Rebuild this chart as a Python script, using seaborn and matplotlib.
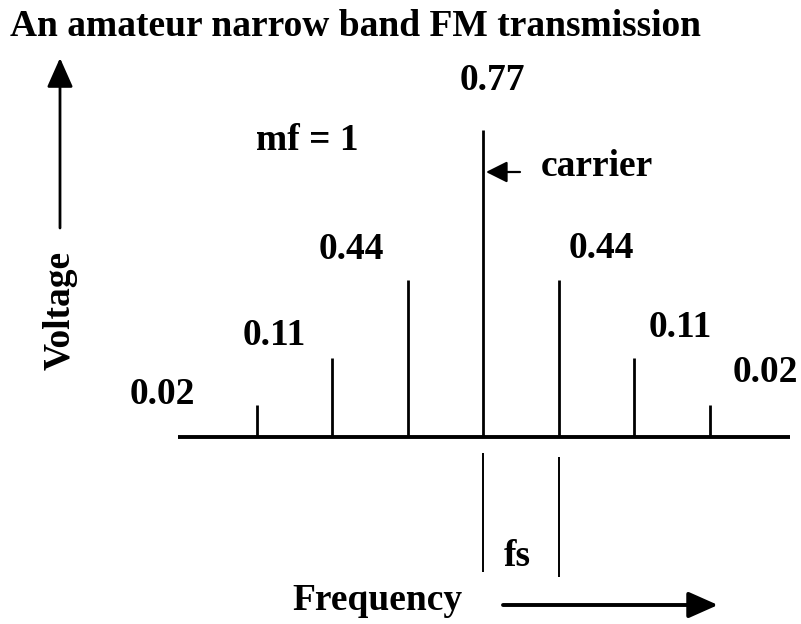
import matplotlib
matplotlib.use("Agg")
import matplotlib.pyplot as plt
import seaborn as sns

# side-band amplitudes (Bessel values for mf = 1), n = -3 .. 3
orders = [-3, -2, -1, 0, 1, 2, 3]
amplitudes = ["0.02", "0.11", "0.44", "0.77", "0.44", "0.11", "0.02"]
# drawn line lengths relative to the carrier
heights = [0.104, 0.257, 0.511, 1.0, 0.511, 0.257, 0.104]

W, H = 801, 624
sns.set_style("white")
plt.rcParams["font.family"] = ["Liberation Serif", "DejaVu Serif"]
plt.rcParams["text.color"] = "black"
FS = 27

fig = plt.figure(figsize=(W / 100, H / 100), dpi=100)
ax = fig.add_axes([0, 0, 1, 1])
ax.set_axis_off()

# map: order 0 at px 483, 75.5 px per order; baseline px 437, carrier 307 px tall
dx, x0 = 75.5, 483
dy, y0 = 307, 437
ax.set_xlim(-x0 / dx, (W - x0) / dx)
ax.set_ylim(-(H - y0) / dy, y0 / dy)


def px(x, y):
    return x / W, 1 - y / H


# baseline and spectral lines
ax.plot([(178 - x0) / dx, (790 - x0) / dx], [0, 0], color="black", lw=2.8,
        solid_capstyle="butt")
ax.vlines(orders, 0, heights, color="black", lw=2.0)

# value labels, offsets in pixels (right, up) from each line top
label_offsets = [(-94, 11), (-58, 23), (-56, 31), (9, 50), (43, 32), (46, 31), (56, 33)]
for o, h, lab, (ox, oy) in zip(orders, heights, amplitudes, label_offsets):
    ax.annotate(lab, (o, h), xytext=(ox * 0.72, oy * 0.72), textcoords="offset points",
                ha="center", va="center", fontsize=FS, fontweight="bold")

# fs spacing markers below the axis
ax.vlines([0], (437 - 453) / dy, (437 - 572) / dy, color="black", lw=1.4)
ax.vlines([1], (437 - 457) / dy, (437 - 577) / dy, color="black", lw=1.4)

fig.text(*px(517, 556), "fs", ha="center", va="center", fontsize=FS, fontweight="bold")
fig.text(*px(307, 141), "mf = 1", ha="center", va="center", fontsize=FS, fontweight="bold")
fig.text(*px(597, 167), "carrier", ha="center", va="center", fontsize=FS, fontweight="bold")
fig.text(*px(10, 27), "An amateur narrow band FM transmission", ha="left", va="center",
         fontsize=FS, fontweight="bold")
fig.text(*px(60, 310), "Voltage", ha="center", va="center", rotation=90,
         fontsize=FS, fontweight="bold")
fig.text(*px(377, 601), "Frequency", ha="center", va="center", fontsize=FS,
         fontweight="bold")

# arrows
head = "-|>,head_length=0.9,head_width=0.4"
ax.annotate("", xy=px(60, 58), xytext=px(60, 228), xycoords="figure fraction",
            arrowprops=dict(arrowstyle=head, lw=2, color="black",
                            mutation_scale=20, shrinkA=0, shrinkB=0))
ax.annotate("", xy=px(718, 605), xytext=px(503, 605), xycoords="figure fraction",
            arrowprops=dict(arrowstyle=head, lw=2.8, color="black",
                            mutation_scale=20, shrinkA=0, shrinkB=0))
ax.annotate("", xy=px(486, 172), xytext=px(520, 172), xycoords="figure fraction",
            arrowprops=dict(arrowstyle="-|>,head_length=1.0,head_width=0.5", lw=1.6,
                            color="black", mutation_scale=13, shrinkA=0, shrinkB=0))

fig.savefig("out.png", dpi=100)
